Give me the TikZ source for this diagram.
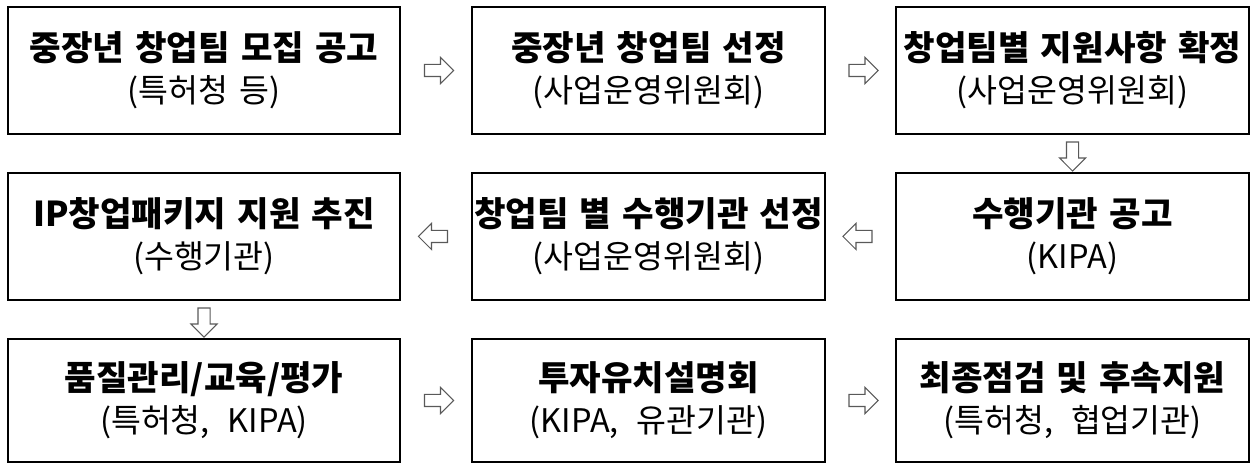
\documentclass[tikz,border=0pt]{standalone}
\usepackage{fontspec}
\setmainfont{Noto Sans CJK KR}
\usepackage{tikz}
\usetikzlibrary{shapes.arrows, positioning}

\begin{document}
\begin{tikzpicture}[
    stepbox/.style={draw=black, line width=1.3pt, minimum height=2.54cm, align=center,
      font={\fontsize{18.5}{24}\selectfont\spaceskip=0.34em\relax}, inner sep=0pt},
    widebox/.style={stepbox, minimum width=7.84cm},
    narrowbox/.style={stepbox, minimum width=7.06cm},
    harrow/.style={single arrow, draw=black!65, line width=0.6pt, fill=white,
      minimum height=0.58cm, minimum width=0.5cm, inner sep=0.11cm,
      single arrow head extend=0.14cm},
    larrow/.style={harrow, shape border rotate=180},
    darrow/.style={harrow, shape border rotate=270}
  ]
  \useasboundingbox (0,0) rectangle (25.02,-9.28);

  % First row
  \node[widebox] (recruit) at (4.08, -1.41) {{\bfseries\fontsize{19.5}{24}\selectfont 중장년 창업팀 모집 공고}\\(특허청 등)};
  \node[narrowbox] (select) at (12.97, -1.41) {{\bfseries\fontsize{19.5}{24}\selectfont 중장년 창업팀 선정}\\(사업운영위원회)};
  \node[narrowbox] (support) at (21.45, -1.41) {{\bfseries\fontsize{19.5}{24}\selectfont 창업팀별 지원사항 확정}\\(사업운영위원회)};

  % Second row
  \node[narrowbox] (notice) at (21.45, -4.73) {{\bfseries\fontsize{19.5}{24}\selectfont 수행기관 공고}\\(KIPA)};
  \node[narrowbox] (agency) at (12.97, -4.73) {{\bfseries\fontsize{19.5}{24}\selectfont 창업팀 별 수행기관 선정}\\(사업운영위원회)};
  \node[widebox] (package) at (4.08, -4.73) {{\bfseries\fontsize{19.5}{24}\selectfont IP창업패키지 지원 추진}\\(수행기관)};

  % Third row
  \node[widebox, minimum height=2.46cm] (quality) at (4.08, -8.01) {{\bfseries\fontsize{19.5}{24}\selectfont 품질관리/교육/평가}\\(특허청,\hspace{0.55em}KIPA)};
  \node[narrowbox, minimum height=2.46cm] (invest) at (12.97, -8.01) {{\bfseries\fontsize{19.5}{24}\selectfont 투자유치설명회}\\(KIPA,\hspace{0.55em}유관기관)};
  \node[narrowbox, minimum height=2.46cm] (final) at (21.45, -8.01) {{\bfseries\fontsize{19.5}{24}\selectfont 최종점검 및 후속지원}\\(특허청,\hspace{0.55em}협업기관)};

  % Hollow arrows between steps
  \path (recruit.east) -- node[harrow] (a1) {} (select.west);
  \path (select.east) -- node[harrow] (a2) {} (support.west);
  \path (support.south) -- node[darrow] (a3) {} (notice.north);
  \path (notice.west) -- node[larrow] (a4) {} (agency.east);
  \path (agency.west) -- node[larrow] (a5) {} (package.east);
  \path (package.south) -- node[darrow] (a6) {} (quality.north);
  \path (quality.east) -- node[harrow] (a7) {} (invest.west);
  \path (invest.east) -- node[harrow] (a8) {} (final.west);
\end{tikzpicture}
\end{document}
